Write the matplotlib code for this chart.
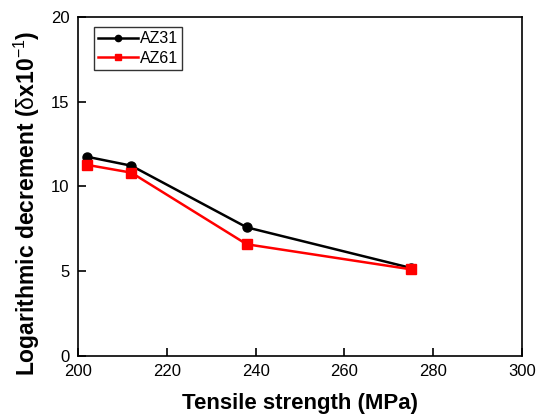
import numpy as np
import matplotlib.pyplot as plt

plt.rcParams['font.family'] = ['Liberation Sans', 'DejaVu Sans']
plt.rcParams['mathtext.fontset'] = 'custom'
plt.rcParams['mathtext.rm'] = 'Liberation Sans'
plt.rcParams['mathtext.it'] = 'Liberation Sans'
plt.rcParams['mathtext.bf'] = 'Liberation Sans:bold'

strength = [202, 212, 238, 275]
az31 = [11.75, 11.22, 7.58, 5.18]
az61 = [11.27, 10.81, 6.58, 5.1]

fig = plt.figure(figsize=(5.39, 4.18), dpi=100)
ax = fig.add_axes([78 / 539, 1 - 355.7 / 418, 444 / 539, 338.7 / 418])

ax.plot(strength, az31, color='black', marker='o', markersize=6.5, lw=1.8, label='AZ31')
ax.plot(strength, az61, color='red', marker='s', markersize=7, lw=1.8, label='AZ61')

ax.set_xlim(200, 300)
ax.set_ylim(0, 20)
ax.set_xticks([200, 220, 240, 260, 280, 300])
ax.set_yticks([0, 5, 10, 15, 20])
ax.tick_params(direction='in', length=6, width=1.2, labelsize=12, pad=6)
for s in ax.spines.values():
    s.set_linewidth(1.2)

ax.set_xlabel('Tensile strength (MPa)', fontsize=16, fontweight='bold', labelpad=10)
ax.set_ylabel(r'Logarithmic decrement ($\mathrm{\delta}$x10$^{\mathrm{-1}}$)', fontsize=16.5,
              fontweight='bold')
ax.yaxis.set_label_coords(-0.081, 0.45)

leg = ax.legend(loc='upper left', bbox_to_anchor=(0.036, 0.970), borderaxespad=0,
                fontsize=11.5, frameon=True, fancybox=False, edgecolor='black',
                handlelength=2.5, borderpad=0.25, handletextpad=0.15, labelspacing=0.3)
leg.get_frame().set_linewidth(1.0)
for h in leg.legend_handles:
    h.set_markersize(4.5)

fig.savefig('out.png', dpi=100)
